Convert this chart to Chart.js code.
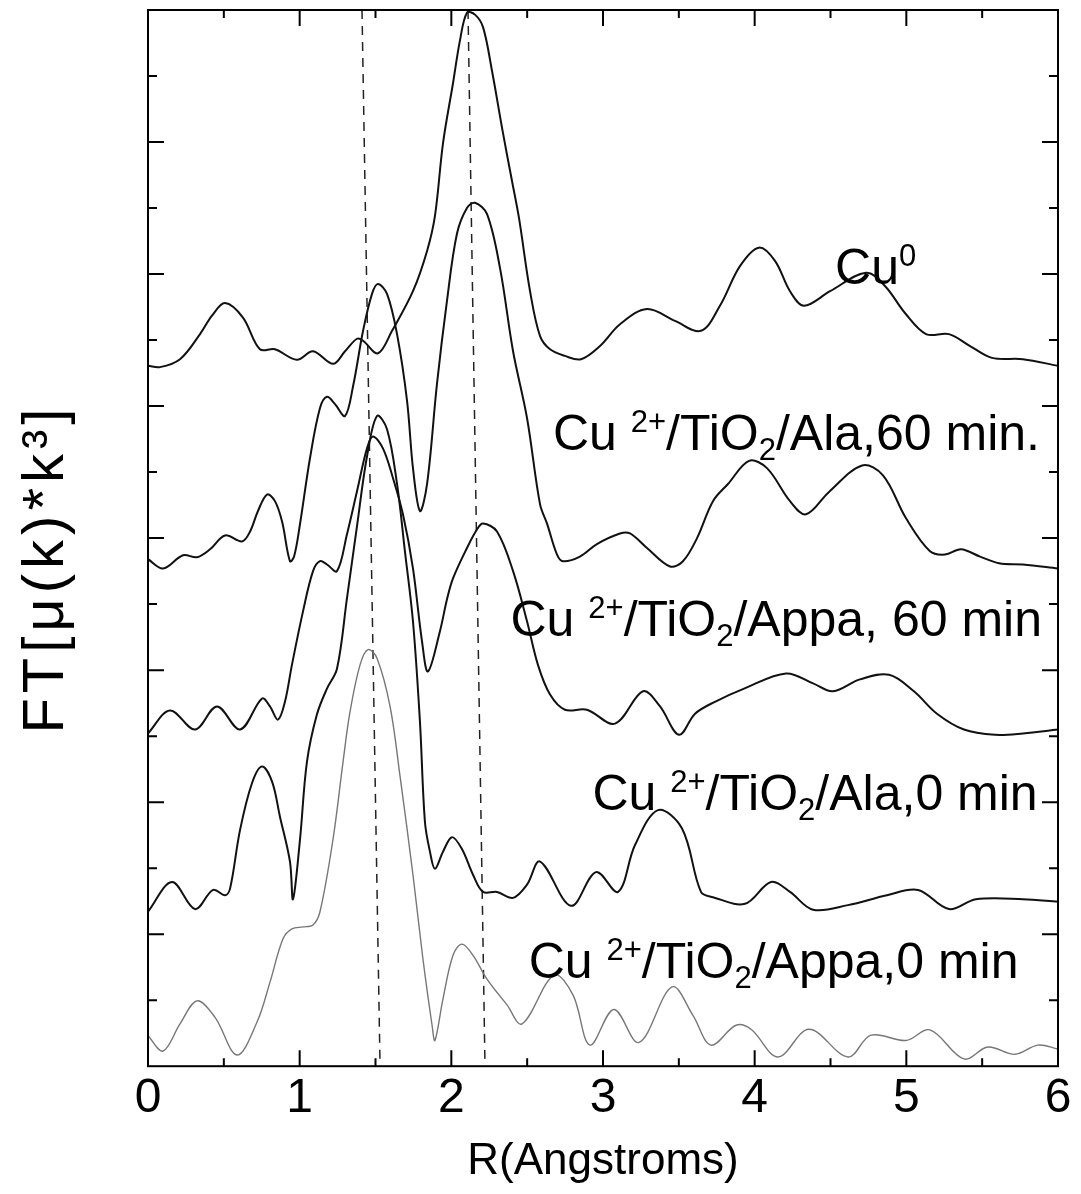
<!DOCTYPE html>
<html>
<head>
<meta charset="utf-8">
<script src="https://cdn.jsdelivr.net/npm/chart.js@4.4.1/dist/chart.umd.min.js"></script>
<style>
  html, body { margin: 0; padding: 0; background: #fff; }
  canvas { display: block; }
</style>
</head>
<body>
<canvas id="ftChart" width="1081" height="1194"></canvas>
<script>
// R (Angstroms) and FT magnitude, curves stacked with an offset (1 unit = 1 tick)
const rCu0 = [0, 0.079, 0.211, 0.343, 0.422, 0.508, 0.626, 0.738, 0.837, 0.982, 1.088, 1.220, 1.299, 1.378, 1.418, 1.516, 1.609, 1.747, 1.840, 1.892, 1.945, 2.011, 2.057, 2.103, 2.156, 2.209, 2.268, 2.341, 2.400, 2.446, 2.519, 2.585, 2.651, 2.749, 2.855, 2.980, 3.112, 3.290, 3.475, 3.646, 3.771, 3.903, 4.028, 4.134, 4.233, 4.325, 4.497, 4.734, 4.859, 4.991, 5.130, 5.281, 5.420, 5.565, 5.769, 6.000];
const ftCu0 = [10.61, 10.59, 10.71, 11.09, 11.37, 11.56, 11.34, 10.86, 10.86, 10.70, 10.83, 10.64, 10.83, 11.02, 10.99, 10.80, 11.14, 11.74, 12.35, 12.88, 13.98, 14.89, 15.54, 15.96, 15.93, 15.74, 15.08, 14.13, 13.41, 12.85, 11.74, 11.06, 10.86, 10.76, 10.71, 10.91, 11.24, 11.47, 11.29, 11.14, 11.52, 12.12, 12.40, 12.20, 11.74, 11.52, 11.74, 12.02, 11.82, 11.41, 11.09, 11.09, 10.91, 10.73, 10.71, 10.61];

const rAla60 = [0, 0.099, 0.231, 0.323, 0.409, 0.508, 0.620, 0.673, 0.725, 0.785, 0.837, 0.884, 0.936, 0.963, 1.002, 1.068, 1.134, 1.180, 1.233, 1.299, 1.352, 1.418, 1.477, 1.516, 1.576, 1.642, 1.708, 1.747, 1.793, 1.840, 1.905, 1.971, 2.037, 2.103, 2.156, 2.235, 2.321, 2.407, 2.499, 2.585, 2.631, 2.697, 2.736, 2.848, 2.960, 3.112, 3.178, 3.290, 3.442, 3.527, 3.620, 3.725, 3.824, 3.963, 4.081, 4.233, 4.338, 4.490, 4.708, 4.846, 4.998, 5.156, 5.255, 5.360, 5.486, 5.611, 5.769, 6.000];
const ftAla60 = [7.68, 7.54, 7.74, 7.71, 7.83, 8.04, 7.95, 8.10, 8.41, 8.66, 8.56, 8.25, 7.65, 7.72, 8.21, 9.21, 9.97, 10.14, 10.03, 9.85, 10.30, 11.14, 11.70, 11.85, 11.70, 11.09, 10.08, 9.06, 8.41, 8.82, 10.33, 11.59, 12.61, 13.00, 13.08, 12.91, 12.09, 10.83, 9.82, 8.51, 8.22, 7.75, 7.65, 7.72, 7.91, 8.07, 8.07, 7.85, 7.57, 7.65, 8.00, 8.56, 8.82, 9.17, 9.06, 8.56, 8.36, 8.70, 9.10, 8.95, 8.30, 7.80, 7.75, 7.83, 7.72, 7.62, 7.60, 7.54];

const rAppa60 = [0, 0.145, 0.310, 0.455, 0.607, 0.752, 0.804, 0.857, 0.903, 0.949, 1.022, 1.088, 1.134, 1.180, 1.246, 1.312, 1.378, 1.444, 1.483, 1.549, 1.615, 1.681, 1.747, 1.807, 1.846, 1.925, 1.971, 2.011, 2.103, 2.169, 2.209, 2.301, 2.407, 2.499, 2.571, 2.651, 2.749, 2.894, 3.079, 3.264, 3.376, 3.501, 3.607, 3.738, 3.930, 4.207, 4.385, 4.516, 4.694, 4.886, 5.050, 5.202, 5.380, 5.585, 5.769, 6.000];
const ftAppa60 = [5.04, 5.39, 5.10, 5.45, 5.10, 5.57, 5.45, 5.25, 5.52, 6.08, 6.89, 7.50, 7.65, 7.60, 7.50, 8.06, 8.71, 9.36, 9.54, 9.36, 8.91, 8.36, 7.54, 6.43, 5.98, 6.59, 7.07, 7.39, 7.85, 8.13, 8.22, 8.10, 7.50, 6.74, 6.08, 5.63, 5.40, 5.40, 5.19, 5.68, 5.45, 5.02, 5.34, 5.52, 5.72, 5.95, 5.80, 5.68, 5.86, 5.93, 5.68, 5.34, 5.10, 5.02, 5.04, 5.10];

const rAla0 = [0, 0.158, 0.310, 0.429, 0.508, 0.541, 0.607, 0.686, 0.752, 0.818, 0.870, 0.936, 0.956, 1.002, 1.048, 1.114, 1.180, 1.246, 1.312, 1.378, 1.444, 1.510, 1.576, 1.642, 1.694, 1.747, 1.793, 1.826, 1.859, 1.892, 1.945, 2.004, 2.070, 2.143, 2.209, 2.301, 2.407, 2.499, 2.585, 2.789, 2.954, 3.099, 3.211, 3.363, 3.521, 3.646, 3.725, 3.936, 4.108, 4.233, 4.385, 4.615, 4.872, 5.077, 5.281, 5.459, 5.769, 6.000];
const ftAla0 = [2.34, 2.79, 2.38, 2.67, 2.59, 2.69, 3.58, 4.29, 4.54, 4.31, 3.78, 3.10, 2.53, 3.43, 4.61, 5.33, 5.72, 6.02, 7.09, 8.18, 9.24, 9.85, 9.65, 8.82, 7.80, 6.74, 5.22, 3.70, 3.25, 2.99, 3.25, 3.47, 3.29, 2.90, 2.64, 2.64, 2.55, 2.75, 3.10, 2.43, 2.94, 2.64, 3.35, 3.88, 3.60, 2.64, 2.56, 2.46, 2.79, 2.64, 2.37, 2.44, 2.59, 2.67, 2.38, 2.53, 2.53, 2.49];

const rAppa0 = [0, 0.099, 0.211, 0.323, 0.442, 0.587, 0.719, 0.804, 0.890, 0.949, 1.022, 1.088, 1.134, 1.220, 1.286, 1.332, 1.398, 1.451, 1.510, 1.596, 1.662, 1.747, 1.813, 1.873, 1.892, 1.945, 2.011, 2.070, 2.143, 2.235, 2.367, 2.466, 2.677, 2.802, 2.914, 3.072, 3.237, 3.455, 3.593, 3.712, 3.877, 3.976, 4.154, 4.358, 4.615, 4.767, 4.998, 5.156, 5.380, 5.538, 5.716, 5.868, 6.000];
const ftAppa0 = [0.46, 0.23, 0.64, 0.99, 0.74, 0.17, 0.67, 1.27, 1.93, 2.08, 2.11, 2.14, 2.34, 3.44, 4.61, 5.37, 6.08, 6.31, 6.18, 5.45, 4.39, 2.90, 1.62, 0.62, 0.39, 1.02, 1.68, 1.85, 1.68, 1.32, 0.93, 0.64, 1.38, 1.08, 0.32, 0.86, 0.36, 1.20, 0.77, 0.32, 0.62, 0.56, 0.14, 0.56, 0.14, 0.47, 0.39, 0.55, 0.11, 0.29, 0.18, 0.32, 0.26];

// dashed guide lines (slightly slanted in the scan)
const guide1R = [1.411, 1.530];
const guide2R = [2.110, 2.222];
const guideFT = [16, 0];

// sample labels: [text, "n" | "sup" | "sub"]
const labelCu0 = [["Cu", "n"], ["0", "sup"]];
const labelAla60 = [["Cu ", "n"], ["2+", "sup"], ["/TiO", "n"], ["2", "sub"], ["/Ala,60 min.", "n"]];
const labelAppa60 = [["Cu ", "n"], ["2+", "sup"], ["/TiO", "n"], ["2", "sub"], ["/Appa, 60 min", "n"]];
const labelAla0 = [["Cu ", "n"], ["2+", "sup"], ["/TiO", "n"], ["2", "sub"], ["/Ala,0 min", "n"]];
const labelAppa0 = [["Cu ", "n"], ["2+", "sup"], ["/TiO", "n"], ["2", "sub"], ["/Appa,0 min", "n"]];

const xTitle = "R(Angstroms)";
const yTitle = "FT[μ(k)*k³]";

const xTickVals = [0.5, 1, 1.5, 2, 2.5, 3, 3.5, 4, 4.5, 5, 5.5];
const yTickVals = [1, 2, 3, 4, 5, 6, 7, 8, 9, 10, 11, 12, 13, 14, 15];

const FONT = '"Liberation Sans", Arial, Helvetica, sans-serif';

const pts = (rs, vs) => rs.map((r, i) => ({ x: r, y: vs[i] }));

function curve(rs, vs, color, width) {
  return { data: pts(rs, vs), borderColor: color, borderWidth: width, tension: 0.35, pointRadius: 0, fill: false };
}

function guide(rs) {
  return { data: pts(rs, guideFT), borderColor: "#222", borderWidth: 1.5, borderDash: [9, 7], pointRadius: 0, tension: 0 };
}

// box + inward ticks on all four sides
const frameTicks = {
  id: "frameTicks",
  afterDatasetsDraw(chart) {
    const { ctx, chartArea: a, scales: { x, y } } = chart;
    ctx.save();
    ctx.strokeStyle = "#000";
    ctx.lineWidth = 2;
    ctx.strokeRect(a.left, a.top, a.right - a.left, a.bottom - a.top);
    ctx.beginPath();
    xTickVals.forEach(v => {
      const px = x.getPixelForValue(v);
      const len = Number.isInteger(v) ? 16 : 8;
      ctx.moveTo(px, a.bottom); ctx.lineTo(px, a.bottom - len);
      ctx.moveTo(px, a.top); ctx.lineTo(px, a.top + len);
    });
    yTickVals.forEach(v => {
      const py = y.getPixelForValue(v);
      const len = v % 2 === 0 ? 16 : 9;
      ctx.moveTo(a.left, py); ctx.lineTo(a.left + len, py);
      ctx.moveTo(a.right, py); ctx.lineTo(a.right - len, py);
    });
    ctx.stroke();
    ctx.restore();
  }
};

const curveLabels = [
  { parts: labelCu0, r: 4.53, v: 11.85 },
  { parts: labelAla60, r: 2.67, v: 9.33 },
  { parts: labelAppa60, r: 2.39, v: 6.52 },
  { parts: labelAla0, r: 2.93, v: 3.88 },
  { parts: labelAppa0, r: 2.51, v: 1.33 }
];

const labelPlugin = {
  id: "curveLabels",
  afterDatasetsDraw(chart) {
    const { ctx, scales: { x, y } } = chart;
    ctx.save();
    ctx.fillStyle = "#000";
    ctx.textBaseline = "alphabetic";
    curveLabels.forEach(lab => {
      let px = x.getPixelForValue(lab.r);
      const py = y.getPixelForValue(lab.v);
      lab.parts.forEach(([txt, kind]) => {
        const size = kind === "n" ? 50 : 31;
        const dy = kind === "sup" ? -18 : kind === "sub" ? 10 : 0;
        ctx.font = `${size}px ${FONT}`;
        ctx.fillText(txt, px, py + dy);
        px += ctx.measureText(txt).width;
      });
    });
    ctx.restore();
  }
};

// rotated y title, spaced out like the scanned original
const yTitlePlugin = {
  id: "yTitle",
  afterDraw(chart) {
    const { ctx, chartArea: a } = chart;
    ctx.save();
    ctx.font = `58px ${FONT}`;
    ctx.fillStyle = "#000";
    ctx.textBaseline = "alphabetic";
    const chars = [...yTitle];
    const gap = 5;
    const total = chars.reduce((s, c) => s + ctx.measureText(c).width, 0) + gap * (chars.length - 1);
    ctx.translate(63, (a.top + a.bottom) / 2 + 33);
    ctx.rotate(-Math.PI / 2);
    let pos = -total / 2;
    chars.forEach(c => {
      ctx.fillText(c, pos, 0);
      pos += ctx.measureText(c).width + gap;
    });
    ctx.restore();
  }
};

new Chart(document.getElementById("ftChart"), {
  type: "line",
  data: {
    datasets: [
      curve(rCu0, ftCu0, "#111", 2),
      curve(rAla60, ftAla60, "#111", 2),
      curve(rAppa60, ftAppa60, "#111", 2),
      curve(rAla0, ftAla0, "#111", 2),
      curve(rAppa0, ftAppa0, "#777", 1.4),
      guide(guide1R),
      guide(guide2R)
    ]
  },
  options: {
    responsive: false,
    animation: false,
    layout: { padding: { left: 0, right: 23, top: 10, bottom: 0 } },
    plugins: { legend: { display: false }, tooltip: { enabled: false } },
    scales: {
      x: {
        type: "linear",
        min: 0,
        max: 6,
        ticks: { stepSize: 1, color: "#000", font: { family: FONT, size: 48, lineHeight: 1 }, padding: 9 },
        grid: { display: false, drawTicks: false },
        border: { display: false },
        title: { display: true, text: xTitle, color: "#000", font: { family: FONT, size: 44 }, padding: { top: 3, bottom: 6 } }
      },
      y: {
        type: "linear",
        min: 0,
        max: 16,
        ticks: { display: false },
        grid: { display: false, drawTicks: false },
        border: { display: false },
        title: { display: false },
        afterFit(scale) { scale.width = 148; }
      }
    }
  },
  plugins: [frameTicks, labelPlugin, yTitlePlugin]
});
</script>
</body>
</html>
